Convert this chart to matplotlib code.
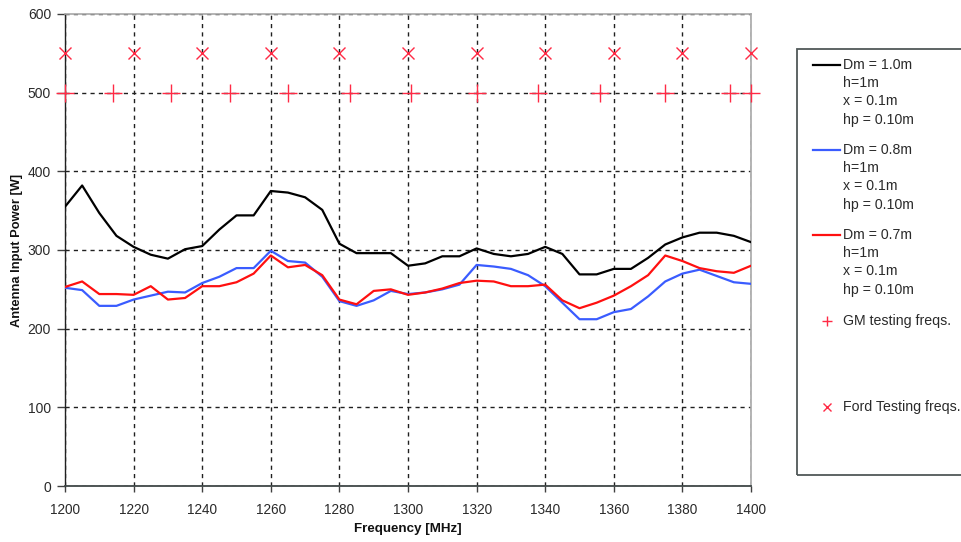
import matplotlib
matplotlib.use("Agg")
import matplotlib.pyplot as plt
from matplotlib.lines import Line2D
from matplotlib.patches import Rectangle

plt.rcParams["font.family"] = ["Liberation Sans", "DejaVu Sans"]

freq = [1200, 1205, 1210, 1215, 1220, 1225, 1230, 1235, 1240, 1245, 1250, 1255,
        1260, 1265, 1270, 1275, 1280, 1285, 1290, 1295, 1300, 1305, 1310, 1315,
        1320, 1325, 1330, 1335, 1340, 1345, 1350, 1355, 1360, 1365, 1370, 1375,
        1380, 1385, 1390, 1395, 1400]

dm10 = [355, 382, 347, 318, 304, 294, 289, 301, 305, 326, 344, 344,
        375, 373, 367, 351, 308, 296, 296, 296, 280, 283, 292, 292,
        302, 295, 292, 295, 304, 295, 269, 269, 276, 276, 290, 307,
        316, 322, 322, 318, 310]

dm08 = [252, 249, 229, 229, 237, 242, 247, 246, 258, 266, 277, 277,
        299, 286, 284, 266, 235, 229, 236, 248, 244, 246, 250, 256,
        281, 279, 276, 268, 254, 233, 212, 212, 221, 225, 241, 260,
        270, 275, 267, 259, 257]

dm07 = [253, 260, 244, 244, 243, 254, 237, 239, 254, 254, 259, 270,
        293, 278, 281, 268, 237, 231, 248, 250, 243, 246, 251, 258,
        261, 260, 254, 254, 256, 236, 226, 233, 242, 254, 268, 293,
        286, 277, 273, 271, 280]

gm_freqs = [1200, 1214, 1231, 1248, 1265, 1283, 1301, 1320, 1338, 1356, 1375, 1394, 1400]
gm_level = [500] * len(gm_freqs)
ford_freqs = [1200, 1220, 1240, 1260, 1280, 1300, 1320, 1340, 1360, 1380, 1400]
ford_level = [550] * len(ford_freqs)

legend_labels = ["Dm = 1.0m\nh=1m\nx = 0.1m\nhp = 0.10m",
                 "Dm = 0.8m\nh=1m\nx = 0.1m\nhp = 0.10m",
                 "Dm = 0.7m\nh=1m\nx = 0.1m\nhp = 0.10m",
                 "GM testing freqs.",
                 "Ford Testing freqs."]

W, H = 961, 542
fig = plt.figure(figsize=(W / 100, H / 100), dpi=100)
ax = fig.add_axes([65 / W, 1 - 486 / H, 686 / W, 472 / H])

c_black = "#000000"
c_blue = "#3a5cff"
c_red = "#ff1010"
c_mark = "#ff2a45"
c_text = "#2a2a2a"

ax.plot(freq, dm10, color=c_black, lw=1.6, zorder=3)
ax.plot(freq, dm08, color=c_blue, lw=1.6, zorder=3)
ax.plot(freq, dm07, color=c_red, lw=1.6, zorder=4)
ax.plot(gm_freqs, gm_level, linestyle="none", marker="+", ms=13, mew=1.0,
        color=c_mark, zorder=5, clip_on=False)
ax.plot(ford_freqs, ford_level, linestyle="none", marker="x", ms=8, mew=1.0,
        color=c_mark, zorder=5, clip_on=False)

ax.set_xlim(1200, 1400)
ax.set_ylim(0, 600)
ax.set_xticks(range(1200, 1401, 20))
ax.set_yticks(range(0, 601, 100))
ax.grid(True, color="#202020", linestyle=(0, (3, 3)), linewidth=1.0)
ax.set_axisbelow(True)

for s in ["top", "right"]:
    ax.spines[s].set_color("#a8a8a8")
    ax.spines[s].set_linewidth(1.2)
ax.spines["left"].set_color("#202020")
ax.spines["bottom"].set_color("#404848")
ax.spines["left"].set_linewidth(1.0)
ax.spines["bottom"].set_linewidth(1.3)

ax.tick_params(axis="y", direction="out", length=6, width=1, color="#404040",
               labelsize=10, labelcolor=c_text, pad=4)
ax.tick_params(axis="x", direction="out", length=4, width=1, color="#404040",
               labelsize=9.8, labelcolor=c_text, pad=8)

ax.set_xlabel("Frequency [MHz]", fontsize=9.6, fontweight="bold", color="#111111")
ax.set_ylabel("Antenna Input Power [W]", fontsize=9.3, fontweight="bold", color="#111111")
ax.xaxis.set_label_coords(0.5, -0.091)
ax.yaxis.set_label_coords(-0.07, 0.5)
ax.xaxis.label.set_va("center")
ax.yaxis.label.set_va("center")

# legend box (figure coordinates, pixels converted)
def fx(px):
    return px / W

def fy(py):
    return 1 - py / H

fig.patches.append(Rectangle((fx(797), fy(475)), fx(170), (475 - 49) / H,
                             transform=fig.transFigure, fill=False,
                             edgecolor="#505858", linewidth=1.3))
line_colors = [c_black, c_blue, c_red]
block_tops = [65, 150, 235]
for col, top, lab in zip(line_colors, block_tops, legend_labels[:3]):
    fig.lines.append(Line2D([fx(813), fx(840)], [fy(top), fy(top)],
                            transform=fig.transFigure, color=col, lw=1.6))
    fig.text(fx(843), fy(top - 7), lab, fontsize=10.2, va="top", ha="left",
             linespacing=1.38, color=c_text)
fig.lines.append(Line2D([fx(827)], [fy(321)], transform=fig.transFigure,
                        marker="+", ms=7, mew=1.0, color=c_mark, linestyle="none"))
fig.text(fx(843), fy(321), legend_labels[3], fontsize=10.2, va="center", ha="left",
         color=c_text)
fig.lines.append(Line2D([fx(827)], [fy(407)], transform=fig.transFigure,
                        marker="x", ms=6, mew=1.0, color=c_mark, linestyle="none"))
fig.text(fx(843), fy(407), legend_labels[4], fontsize=10.2, va="center", ha="left",
         color=c_text)

fig.savefig("out.png", dpi=100)
